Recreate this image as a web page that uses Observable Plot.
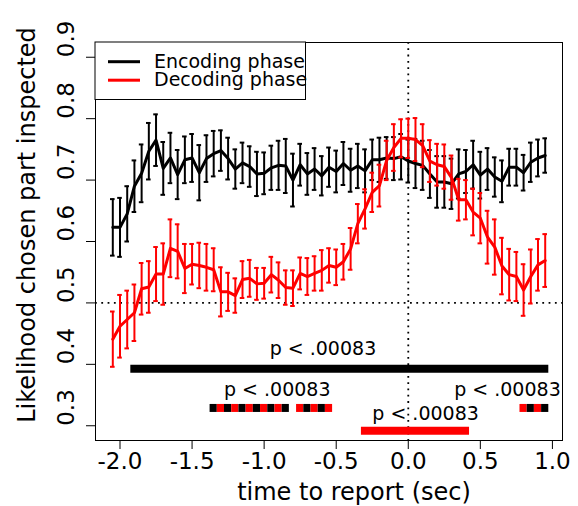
<!DOCTYPE html>
<html><head><meta charset="utf-8">
<script src="https://cdn.jsdelivr.net/npm/d3@7"></script>
<script src="https://cdn.jsdelivr.net/npm/@observablehq/plot@0.6"></script>
<style>
body{margin:0;background:#fff}
svg{font-family:"DejaVu Sans",sans-serif}
</style>
</head><body><div id="chart"></div>
<script>
// ---- data ----
const times = [-2.05,-2.00,-1.95,-1.90,-1.85,-1.80,-1.75,-1.70,-1.65,-1.60,
  -1.55,-1.50,-1.45,-1.40,-1.35,-1.30,-1.25,-1.20,-1.15,-1.10,
  -1.05,-1.00,-0.95,-0.90,-0.85,-0.80,-0.75,-0.70,-0.65,-0.60,
  -0.55,-0.50,-0.45,-0.40,-0.35,-0.30,-0.25,-0.20,-0.15,-0.10,
  -0.05,0.00,0.05,0.10,0.15,0.20,0.25,0.30,0.35,0.40,
  0.45,0.50,0.55,0.60,0.65,0.70,0.75,0.80,0.85,0.90,0.95];
const encMean = [0.623,0.623,0.645,0.690,0.711,0.747,0.765,0.719,0.736,0.709,
  0.733,0.736,0.712,0.735,0.743,0.748,0.735,0.718,0.728,0.722,
  0.710,0.711,0.720,0.724,0.723,0.700,0.725,0.710,0.718,0.707,
  0.721,0.714,0.727,0.716,0.723,0.715,0.733,0.733,0.736,0.735,
  0.738,0.731,0.727,0.724,0.710,0.697,0.697,0.694,0.710,0.714,
  0.725,0.708,0.718,0.705,0.698,0.721,0.721,0.712,0.729,0.736,0.740];
const encSE = [0.046,0.048,0.045,0.042,0.047,0.046,0.042,0.043,0.041,0.040,
  0.038,0.039,0.045,0.038,0.037,0.033,0.034,0.032,0.033,0.033,
  0.036,0.034,0.036,0.040,0.044,0.043,0.034,0.034,0.034,0.032,
  0.032,0.034,0.035,0.035,0.036,0.035,0.033,0.036,0.034,0.035,
  0.037,0.035,0.040,0.040,0.039,0.042,0.042,0.041,0.040,0.035,
  0.039,0.038,0.034,0.032,0.034,0.030,0.030,0.029,0.032,0.030,0.028];
const decMean = [0.441,0.462,0.473,0.484,0.523,0.526,0.547,0.547,0.589,0.584,
  0.556,0.563,0.561,0.558,0.554,0.518,0.518,0.512,0.538,0.540,
  0.531,0.532,0.546,0.537,0.525,0.524,0.548,0.543,0.548,0.553,
  0.561,0.558,0.567,0.588,0.629,0.653,0.680,0.691,0.732,0.753,
  0.768,0.768,0.766,0.756,0.731,0.725,0.722,0.704,0.668,0.668,
  0.648,0.638,0.607,0.591,0.560,0.546,0.543,0.521,0.543,0.562,0.569];
const decSE = [0.045,0.051,0.047,0.046,0.042,0.042,0.044,0.050,0.047,0.044,
  0.040,0.033,0.037,0.038,0.035,0.040,0.031,0.028,0.030,0.030,
  0.026,0.025,0.029,0.029,0.028,0.029,0.026,0.030,0.028,0.033,
  0.028,0.029,0.029,0.034,0.032,0.032,0.032,0.034,0.032,0.038,
  0.031,0.032,0.035,0.035,0.034,0.034,0.036,0.036,0.034,0.032,
  0.038,0.041,0.043,0.045,0.046,0.042,0.040,0.042,0.044,0.042,0.043];

const seriesNames = ["Encoding phase","Decoding phase"];
const seriesColors = ["black","red"];

// significance bars (first / last significant time bin, level on y)
const sigBars = [
  {from:-1.90, to:0.95, level:0.393, color:"black"},
  {from:-0.30, to:0.40, level:0.292, color:"red"}
];
const mixedTimes  = [-1.35,-1.30,-1.25,-1.20,-1.15,-1.10,-1.05,-1.00,-0.95,-0.90,-0.85,
                     -0.75,-0.70,-0.65,-0.60,-0.55, 0.80,0.85,0.90,0.95];
const mixedColors = ["black","red","black","red","black","red","black","red","black","red","black",
                     "red","black","red","black","red", "red","black","red","black"];
const mixedLevel = 0.329;
const sigText = "p < .00083";
const sigLabelX = [-0.592,-0.909,0.688,0.12];
const sigLabelY = [0.4258,0.359,0.359,0.319];

const xTicks = [-2,-1.5,-1,-0.5,0,0.5,1];
const xTickLabels = ["-2.0","-1.5","-1.0","-0.5","0.0","0.5","1.0"];
const yTicks = [0.3,0.4,0.5,0.6,0.7,0.8,0.9];
const yTickLabels = ["0.3","0.4","0.5","0.6","0.7","0.8","0.9"];
const xTitle = "time to report (sec)";
const yTitle = "Likelihood chosen part inspected";

// ---- build ----
const binHalf = 0.025, capHalf = 0.016;
const enc = times.map((t,i)=>({t, m:encMean[i], se:encSE[i]}));
const dec = times.map((t,i)=>({t, m:decMean[i], se:decSE[i]}));
const mixed = mixedTimes.map((t,i)=>({t, c:mixedColors[i]}));
const labels = sigLabelX.map((x,i)=>({x, y:sigLabelY[i]}));

function seriesMarks(data, color){
  return [
    Plot.ruleX(data,{x:"t", y1:d=>d.m-d.se, y2:d=>d.m+d.se, stroke:color, strokeWidth:2}),
    Plot.ruleY(data,{y:d=>d.m-d.se, x1:d=>d.t-capHalf, x2:d=>d.t+capHalf, stroke:color, strokeWidth:2}),
    Plot.ruleY(data,{y:d=>d.m+d.se, x1:d=>d.t-capHalf, x2:d=>d.t+capHalf, stroke:color, strokeWidth:2}),
    Plot.line(data,{x:"t", y:"m", stroke:color, strokeWidth:3})
  ];
}

const chart = Plot.plot({
  width:578, height:506,
  marginLeft:95, marginRight:16, marginTop:42, marginBottom:66,
  x:{domain:[-2.17,1.07]},
  y:{domain:[0.276,0.924]},
  style:{fontFamily:"DejaVu Sans", background:"white", color:"black"},
  marks:[
    Plot.ruleY([0.5],{stroke:"black", strokeWidth:1.8, strokeDasharray:"1.8,4.5"}),
    Plot.ruleX([0],{stroke:"black", strokeWidth:1.8, strokeDasharray:"1.8,4.5"}),
    ...seriesMarks(enc, seriesColors[0]),
    ...seriesMarks(dec, seriesColors[1]),
    Plot.ruleY(sigBars,{y:"level", x1:d=>d.from-binHalf, x2:d=>d.to+binHalf, stroke:"color", strokeWidth:8}),
    Plot.ruleY(mixed,{y:()=>mixedLevel, x1:d=>d.t-binHalf, x2:d=>d.t+binHalf, stroke:"c", strokeWidth:8}),
    Plot.text(labels,{x:"x", y:"y", text:()=>sigText, fontSize:19, fill:"black"}),
    Plot.axisX({ticks:xTicks, tickFormat:d=>xTickLabels[xTicks.indexOf(d)], tickSize:9, tickPadding:3, fontSize:23, label:null}),
    Plot.axisY({ticks:yTicks, tickFormat:()=>"", tickSize:9, label:null}),
    Plot.text(yTicks,{y:d=>d, text:d=>yTickLabels[yTicks.indexOf(d)], frameAnchor:"left", dx:-29, rotate:-90, fontSize:23, fill:"black"}),
    Plot.frame({stroke:"black"})
  ]
});
document.getElementById("chart").appendChild(chart);

// ---- titles and legend ----
const svg = d3.select(chart);
svg.append("text").attr("x",354).attr("y",500).attr("text-anchor","middle")
  .attr("font-size",24).attr("fill","black").text(xTitle);
svg.append("text").attr("transform","translate(35,225) rotate(-90)").attr("text-anchor","middle")
  .attr("font-size",24).attr("fill","black").text(yTitle);

const lg = svg.append("g");
lg.append("rect").attr("x",95).attr("y",42).attr("width",210.5).attr("height",57.5)
  .attr("fill","white").attr("stroke","black");
seriesNames.forEach((name,i)=>{
  const yy = 61.7 + i*18.5;
  lg.append("line").attr("x1",108).attr("x2",140).attr("y1",yy).attr("y2",yy)
    .attr("stroke",seriesColors[i]).attr("stroke-width",3);
  lg.append("text").attr("x",154).attr("y",yy+6.2).attr("text-anchor","start")
    .attr("font-size",19).attr("fill","black").text(name);
});
</script>
</body></html>
